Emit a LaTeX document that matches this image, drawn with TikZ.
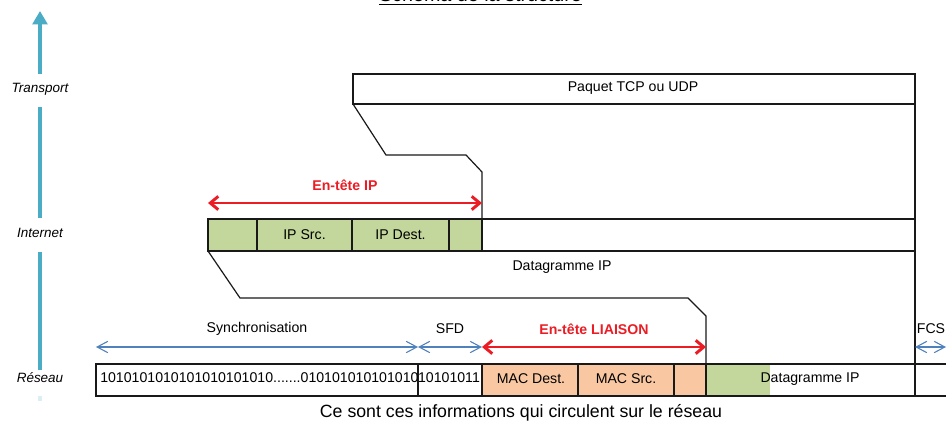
\documentclass[tikz,border=0pt]{standalone}
\usepackage{fontspec}
\setmainfont{Liberation Sans}
\usetikzlibrary{arrows.meta}
\definecolor{axisblue}{RGB}{75,172,198}
\definecolor{dimblue}{RGB}{79,129,189}
\definecolor{hdrgreen}{RGB}{195,214,155}
\definecolor{hdrorange}{RGB}{249,200,162}
\definecolor{hdrred}{RGB}{235,28,36}
\begin{document}
\begin{tikzpicture}[x=0.75pt,y=-0.75pt,
  frame/.style={draw=black!90, line width=0.9pt, line join=miter},
  txt/.style={inner sep=0pt, font=\fontsize{10.6}{12}\selectfont},
  layer/.style={inner sep=0pt, font=\fontsize{10.1}{12}\selectfont\itshape},
  hdr/.style={inner sep=0pt, text=hdrred, font=\fontsize{10.6}{12}\selectfont\bfseries},
  dimarrow/.style={draw=dimblue, line width=0.8pt, {Straight Barb[length=8pt,width=8.5pt]}-{Straight Barb[length=8pt,width=8.5pt]}},
  hdrarrow/.style={draw=hdrred, line width=2.2pt, {Straight Barb[length=6pt,width=10pt]}-{Straight Barb[length=6pt,width=10pt]}},
  axisline/.style={draw=axisblue, line width=3pt}
]
\fill[white] (0,0) rectangle (946,429);
\useasboundingbox (0,0) rectangle (946,429);

% title (cut by the top edge, as in the reference)
\node[inner sep=0pt, anchor=base, font=\fontsize{14.8}{17}\selectfont] (title) at (480.5,1) {Schéma de la structure};
\draw[black, line width=1.1pt] ([yshift=-2.5pt]title.base west) -- ([yshift=-2.5pt]title.base east);

% layer labels and axis
\node[layer] (ltrans) at (40,89) {Transport};
\node[layer] (linet) at (40,233) {Internet};
\node[layer] (lres) at (40,378) {Réseau};
\coordinate (atip) at (40,11);
\coordinate (a1) at (40,74);
\coordinate (a2) at (40,107);
\coordinate (a3) at (40,218);
\coordinate (a4) at (40,252);
\coordinate (a5) at (40,370);
\coordinate (a6) at (40,396);
\coordinate (a7) at (40,401);
\draw[axisline, -{Triangle[length=10pt,width=11pt]}] (a1) -- (atip);
\draw[axisline] (a2) -- (a3);
\draw[axisline] (a4) -- (a5);
\draw[axisline, draw opacity=0.2] (a6) -- (a7);

% fills
\fill[hdrgreen] (208,219) rectangle (482,251);
\fill[hdrorange] (482,364) rectangle (706,396);
\fill[hdrgreen] (706,364) rectangle (770,396);

% transport box and right edge
\draw[frame] (915,396) -- (915,74) -- (353,74) -- (353,104) -- (915,104);
\node[txt] (tcp) at (633,88) {Paquet TCP ou UDP};
% upper step
\draw[frame] (353,104) -- (386,155) -- (466,155) -- (482,172) -- (482,219);

% internet row
\draw[frame] (208,219) rectangle (915,251);
\draw[frame] (257,219) -- (257,251);
\draw[frame] (352,219) -- (352,251);
\draw[frame] (449,219) -- (449,251);
\draw[frame] (482,219) -- (482,251);
\node[txt] (ipsrc) at (304.5,235) {IP Src.};
\node[txt] (ipdst) at (400.5,235) {IP Dest.};
\coordinate (ipl) at (208,203);
\coordinate (ipr) at (482,203);
\draw[hdrarrow] (ipl) -- (ipr);
\node[hdr] (iphdr) at (345,185) {En-tête IP};

% lower step
\draw[frame] (208,251) -- (240,298) -- (688,298) -- (706,316) -- (706,364);
\node[txt] (dgip) at (562,267) {Datagramme IP};

% reseau row
\draw[frame] (96,364) rectangle (960,396);
\draw[frame] (418,364) -- (418,396);
\draw[frame] (482,364) -- (482,396);
\draw[frame] (578,364) -- (578,396);
\draw[frame] (674,364) -- (674,396);
\draw[frame] (706,364) -- (706,396);
\node[txt, anchor=west] (bits) at (100,378) {1010101010101010101010.......010101010101010};
\node[txt] (sfdbits) at (449,378) {10101011};
\node[txt] (macd) at (531,379) {MAC Dest.};
\node[txt] (macs) at (626,379) {MAC Src.};
\node[txt] (dgip2) at (810,379) {Datagramme IP};

% dimension arrows
\coordinate (s0) at (96,347);
\coordinate (s1) at (418,347);
\coordinate (s2) at (482,347);
\coordinate (s3) at (706,347);
\coordinate (s4) at (915,347);
\coordinate (s5) at (946,347);
\draw[dimarrow] (s0) -- (s1);
\draw[dimarrow] (s1) -- (s2);
\draw[hdrarrow] (s2) -- (s3);
\draw[dimarrow] (s4) -- (s5);
\node[txt] (sync) at (257,329) {Synchronisation};
\node[txt] (sfd) at (450,329) {SFD};
\node[hdr] (liaison) at (594,329) {En-tête LIAISON};
\node[txt] (fcs) at (931,329) {FCS};

% caption
\node[inner sep=0pt, font=\fontsize{13.3}{16}\selectfont] (caption) at (521,413) {Ce sont ces informations qui circulent sur le réseau};
\end{tikzpicture}
\end{document}
